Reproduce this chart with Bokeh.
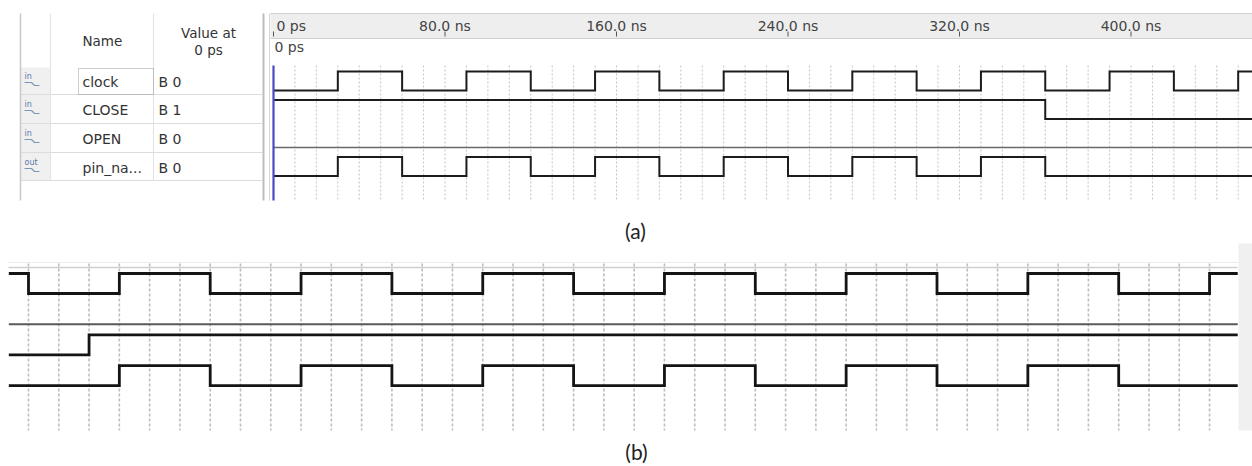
from bokeh.plotting import figure
from bokeh.models import Range1d
from bokeh.core.properties import value
from bokeh.embed import file_html
from bokeh.resources import INLINE

# ---------------- data : panel (a) (Quartus waveform) ----------------
a_names = ["clock", "CLOSE", "OPEN", "pin_na..."]
a_dirs = ["in", "in", "in", "out"]
a_values0 = ["B 0", "B 1", "B 0", "B 0"]
a_tick_values = [0, 80, 160, 240, 320, 400]
a_tick_labels = ["0 ps", "80.0 ns", "160.0 ns", "240.0 ns", "320.0 ns", "400.0 ns"]
a_t_end = 456.7
a_init = [0, 1, 0, 0]
a_edges = [
    [30, 60, 90, 120, 150, 180, 210, 240, 270, 300, 330, 360, 390, 420, 450],  # clock
    [360],                                                                      # CLOSE
    [],                                                                         # OPEN
    [30, 60, 90, 120, 150, 180, 210, 240, 270, 300, 330, 360],                  # pin_name
]

# ---------------- data : panel (b) (simulation result) ----------------
b_t_start = 23.5
b_t_end = 429.3
b_init = [1, 0, 0, 0]
b_edges = [
    [30, 60, 90, 120, 150, 180, 210, 240, 270, 300, 330, 360, 390, 420],  # clock
    [],                                                                   # OPEN
    [50],                                                                 # CLOSE
    [60, 90, 120, 150, 180, 210, 240, 270, 300, 330, 360, 390],           # output
]

captions = ["(a)", "(b)"]


def step_wave(init, edges, t0, t1):
    xs, ys, v = [t0], [init], init
    for e in edges:
        xs += [e, e]
        ys += [v, 1 - v]
        v = 1 - v
    xs.append(t1)
    ys.append(v)
    return xs, ys


W, H = 1252, 466
p = figure(width=W, height=H, output_backend="svg", toolbar_location=None,
           x_range=Range1d(0, W), y_range=Range1d(H, 0),
           x_axis_location=None, y_axis_location=None, min_border=0,
           outline_line_color=None, background_fill_color="white",
           border_fill_color="white")
p.grid.visible = False

# time scales of the two panels and lane scales
a_px_per_ns = 171.5 / 80.0
a_x0 = 273.0
p.extra_x_ranges["a"] = Range1d(-a_x0 / a_px_per_ns, (W - a_x0) / a_px_per_ns)
a_lane_gap = 1.5
p.extra_y_ranges["a"] = Range1d(1 - (H - 71) / 19.0, 1 + 71 / 19.0)

b_px_per_ns = 90.85 / 30.0
p.extra_x_ranges["b"] = Range1d(30 - 28 / b_px_per_ns, 30 + (W - 28) / b_px_per_ns)
b_lane_gap = 1.535
p.extra_y_ranges["b"] = Range1d(1 - (H - 273) / 20.0, 1 + 273 / 20.0)

TF = value("DejaVu Sans")
TXT = "#333333"

# ---------------- panel (a) : signal table ----------------
p.quad(left=20, right=50, top=67, bottom=180, fill_color="#f0f0f0", line_color=None)
p.segment(x0=[20, 20, 20, 20], x1=[262, 262, 262, 262], y0=[94, 123, 152, 180],
          y1=[94, 123, 152, 180], line_color="#dcdcdc", line_width=1)
p.segment(x0=[50, 153], x1=[50, 153], y0=[13, 13], y1=[180, 180],
          line_color="#e2e2e2", line_width=1)
p.segment(x0=[20, 263, 269], x1=[20, 263, 269], y0=[13, 13, 13], y1=[200, 200, 200],
          line_color=["#c8c8c8", "#bdbdbd", "#d6d6d6"], line_width=[1.5, 2, 1])
p.quad(left=78, right=153, top=68, bottom=94, fill_color=None, line_color="#9a9a9a",
       line_dash="1 1", line_width=1)

p.text(x=[82], y=[40], text=["Name"], text_font=TF, text_font_size="13.5px",
       text_color=TXT, text_baseline="middle")
p.text(x=[208, 208], y=[32, 49], text=["Value at", "0 ps"], text_font=TF,
       text_font_size="13.5px", text_color=TXT, text_baseline="middle", text_align="center")

row_y = [81, 109, 138, 167]
p.text(x=[82] * 4, y=row_y, text=a_names, text_font=TF, text_font_size="14px",
       text_color=TXT, text_baseline="middle")
p.text(x=[158] * 4, y=row_y, text=a_values0, text_font=TF, text_font_size="14px",
       text_color=TXT, text_baseline="middle")
# little pin icons
p.text(x=[24] * 4, y=[yy - 5 for yy in row_y], text=a_dirs, text_font=TF,
       text_font_size="8px", text_color="#5878a8", text_baseline="middle")
for yy in row_y:
    p.line([24, 31, 34, 39], [yy + 1, yy + 1, yy + 4, yy + 4], line_color="#7d95b8",
           line_width=1.2)

# ---------------- panel (a) : waveform header ----------------
p.quad(left=270, right=W, top=13, bottom=38, fill_color="#eeeeee", line_color=None)
p.segment(x0=[270, 270], x1=[W, W], y0=[13, 38], y1=[13, 38], line_color="#cfcfcf")
p.segment(x0=a_tick_values, x1=a_tick_values, y0=[31] * 6, y1=[36] * 6,
          x_range_name="a", line_color="#555555", line_width=1)
p.text(x=a_tick_values[:1], y=[25], text=a_tick_labels[:1], x_range_name="a",
       text_font=TF, text_font_size="14px", text_color="#444444",
       text_baseline="middle", text_align="left", x_offset=3)
p.text(x=a_tick_values[1:], y=[25] * 5, text=a_tick_labels[1:], x_range_name="a",
       text_font=TF, text_font_size="14px", text_color="#444444",
       text_baseline="middle", text_align="center")
p.text(x=[0], y=[46], text=["0 ps"], x_range_name="a", text_font=TF,
       text_font_size="14px", text_color="#444444", text_baseline="middle",
       text_align="left", x_offset=1)

# grid of panel (a)
a_grid = list(range(10, 451, 10))
p.segment(x0=a_grid, x1=a_grid, y0=[65] * len(a_grid), y1=[200] * len(a_grid),
          x_range_name="a", line_color="#c4c4c4", line_width=1, line_dash="2 2")

# signals of panel (a)
for k in range(4):
    xs, ys = step_wave(a_init[k], a_edges[k], 0, a_t_end)
    ys = [v - a_lane_gap * k for v in ys]
    faint = len(a_edges[k]) == 0
    p.line(xs, ys, x_range_name="a", y_range_name="a",
           line_color="#6a6a6a" if faint else "#1c1c1c",
           line_width=1.3 if faint else 2, line_join="miter")

# cursor at 0 ps
p.segment(x0=[0], x1=[0], y0=[65], y1=[200], x_range_name="a",
          line_color="#4848c8", line_width=2.2)

# ---------------- panel (b) ----------------
p.quad(left=1238, right=W, top=243, bottom=430, fill_color="#f0f0f0", line_color=None)
p.segment(x0=[8, 8], x1=[1237, 1237], y0=[262, 267], y1=[262, 267],
          line_color=["#d9d9d9", "#cfcfcf"], line_width=[1, 1.5],
          line_dash=["1 1", "solid"])
b_grid = list(range(30, 421, 10))
p.segment(x0=b_grid, x1=b_grid, y0=[263] * len(b_grid), y1=[430] * len(b_grid),
          x_range_name="b", line_color="#bdbdbd", line_width=1.6, line_dash="3 2")
for k in range(4):
    xs, ys = step_wave(b_init[k], b_edges[k], b_t_start, b_t_end)
    ys = [v - b_lane_gap * k for v in ys]
    faint = len(b_edges[k]) == 0
    p.line(xs, ys, x_range_name="b", y_range_name="b",
           line_color="#5a5a5a" if faint else "#141414",
           line_width=2 if faint else 2.8, line_join="miter")

# ---------------- captions ----------------
p.text(x=[635, 636], y=[230, 451], text=captions, text_font=value("Lato"),
       text_font_size="21px", text_color="#222222", text_baseline="middle",
       text_align="center")

open("out.html", "w").write(file_html(p, INLINE))
